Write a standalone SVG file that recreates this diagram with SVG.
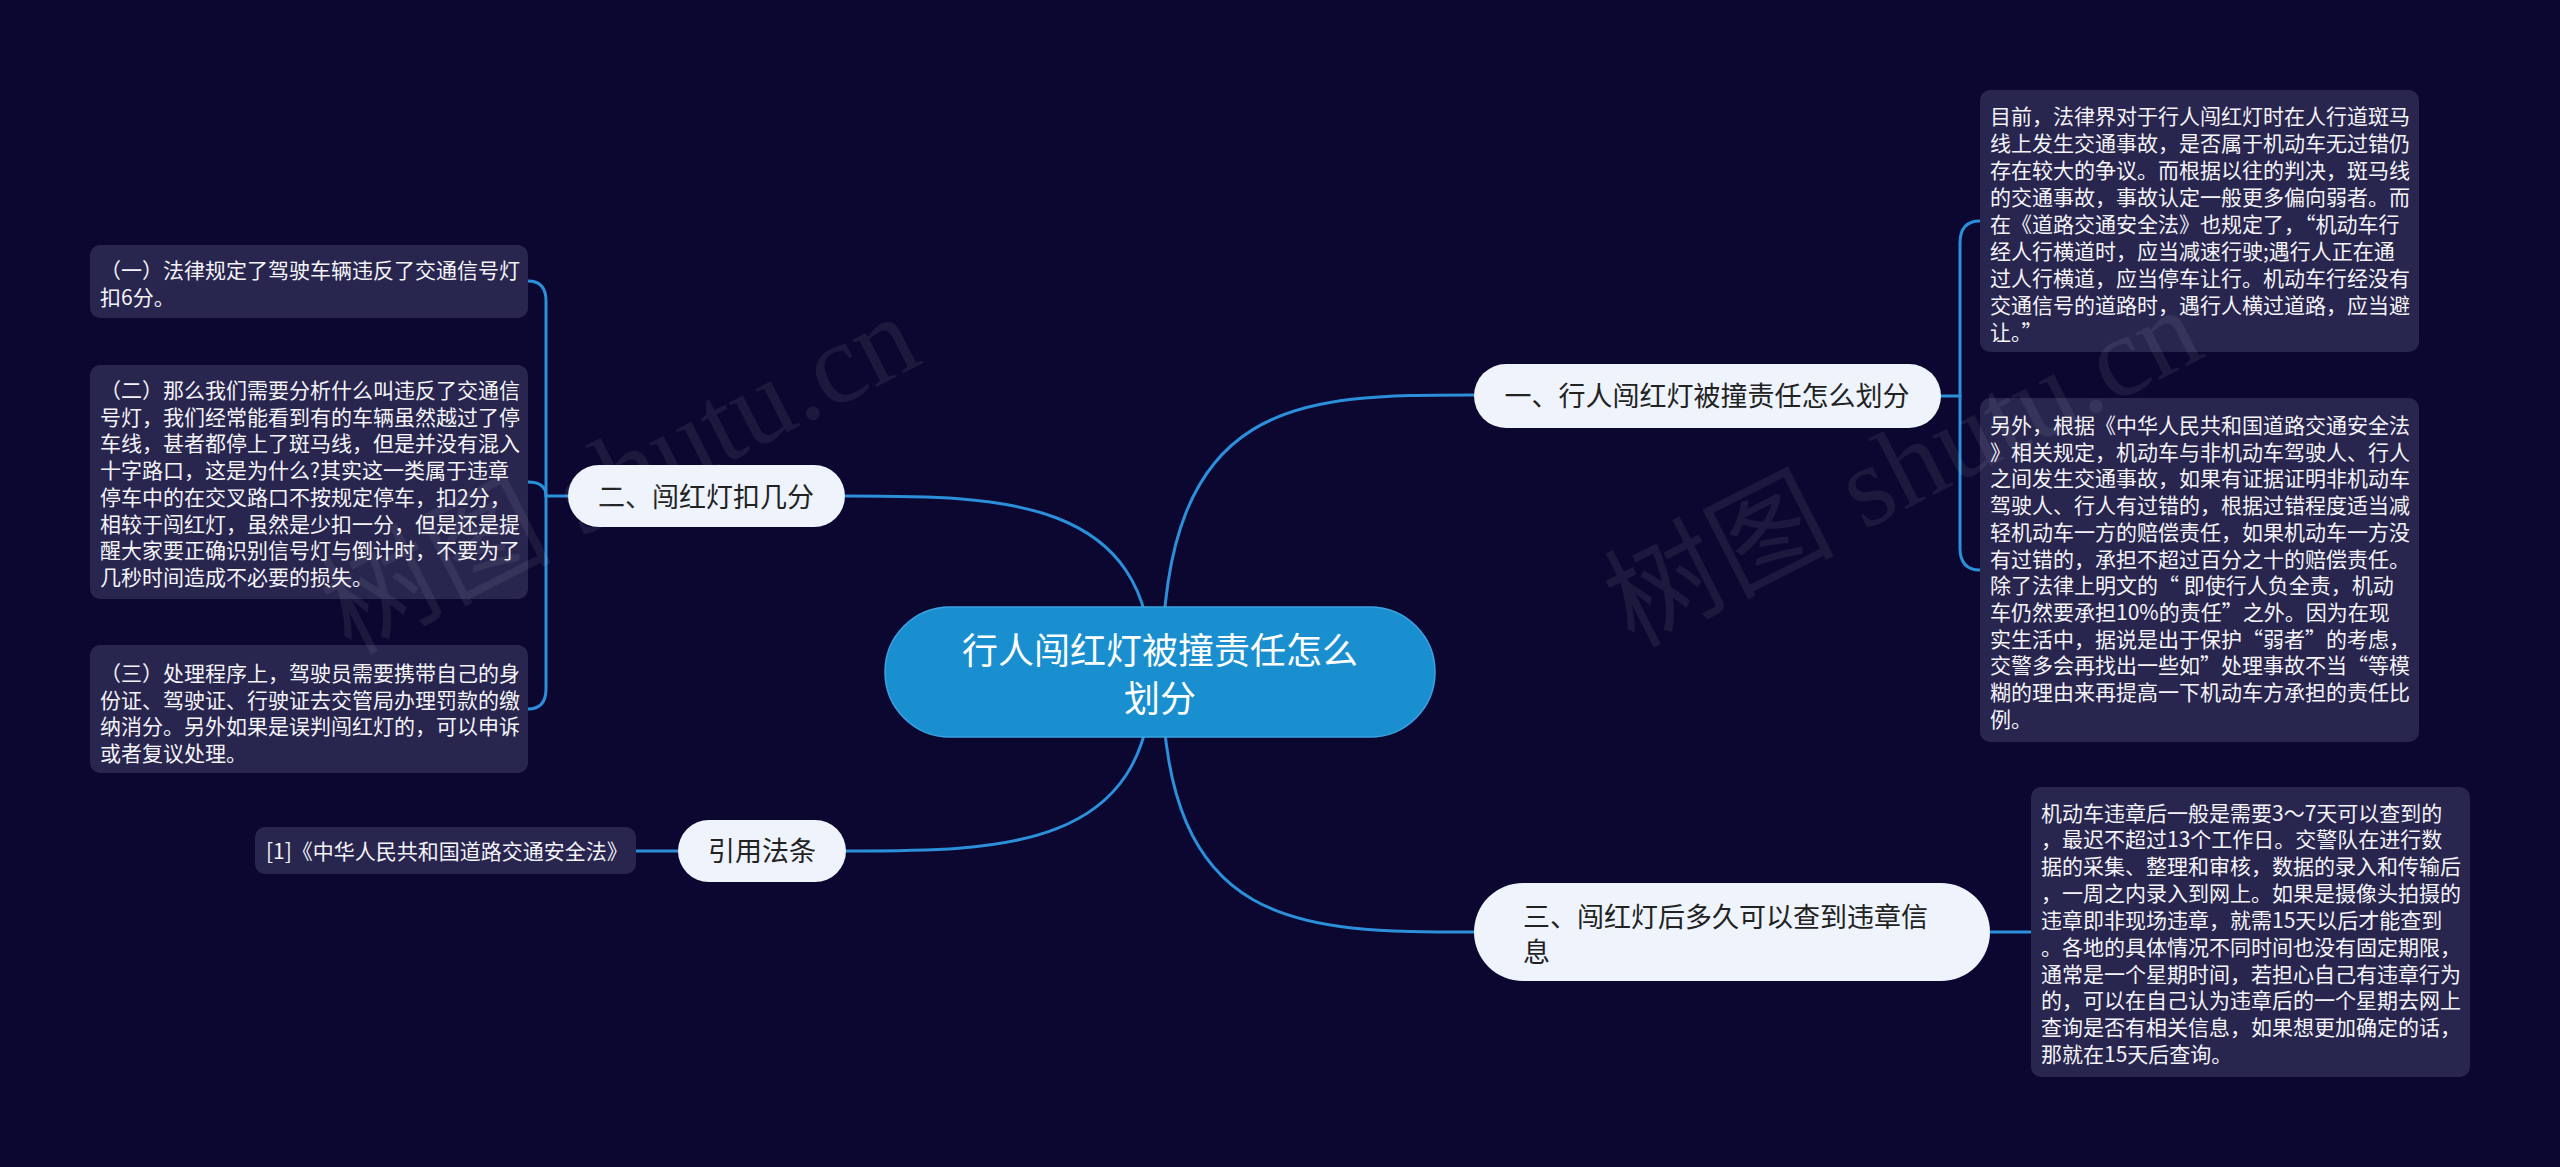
<svg xmlns="http://www.w3.org/2000/svg" width="2560" height="1167" viewBox="0 0 2560 1167">
<style>
.bg{fill:#0b0730}
.link{fill:none;stroke:#2b8fda;stroke-width:3;stroke-linecap:round}
.root{fill:#1a8fd0;stroke:#3ba3e2;stroke-width:1.5}
.rootT{font-family:"Noto Sans CJK SC","Noto Sans",sans-serif;font-size:36px;fill:#ffffff;text-anchor:middle}
.topic{fill:#eef3fc}
.topicT{font-family:"Noto Sans CJK SC","Noto Sans",sans-serif;font-size:27px;fill:#222222}
.box{fill:#28254f}
.boxT{font-family:"Noto Sans CJK SC","Noto Sans",sans-serif;font-size:21px;fill:#f4f4f8}
.wm{font-family:"Liberation Serif","Noto Sans CJK SC",serif;font-size:115px;fill:#ffffff;fill-opacity:0.07}
</style>
<rect class="bg" x="0" y="0" width="2560" height="1167"/>

<g id="connectors">
  <path class="link" d="M1162,672 C1162,395 1300,395 1474,395"/>
  <path class="link" d="M1152,672 C1152,496 1000,496 846,496"/>
  <path class="link" d="M1162,672 C1162,932 1300,932 1474,932"/>
  <path class="link" d="M1152,672 C1152,851 1000,851 846,851"/>
  <path class="link" d="M1941,396 H1960"/>
  <path class="link" d="M1960,396 V243 Q1960,221 1980,221"/>
  <path class="link" d="M1960,396 V548 Q1960,570 1980,570"/>
  <path class="link" d="M568,496 H546"/>
  <path class="link" d="M546,496 V301 Q546,281 528,281"/>
  <path class="link" d="M546,496 Q546,482 528,482"/>
  <path class="link" d="M546,496 V689 Q546,709 528,709"/>
  <path class="link" d="M1990,932 H2031"/>
  <path class="link" d="M678,851 H636"/>
</g>

<g id="root">
  <rect class="root" x="885" y="607" width="550" height="130" rx="65"/>
  <text class="rootT" x="1160" y="664">行人闯红灯被撞责任怎么</text>
  <text class="rootT" x="1160" y="712">划分</text>
</g>

<g id="topic1">
  <rect class="topic" x="1474" y="364" width="467" height="64" rx="32"/>
  <text class="topicT" x="1707" y="406" text-anchor="middle">一、行人闯红灯被撞责任怎么划分</text>
</g>

<g id="topic2">
  <rect class="topic" x="568" y="465" width="277" height="62" rx="31"/>
  <text class="topicT" x="706" y="507" text-anchor="middle">二、闯红灯扣几分</text>
</g>

<g id="topic3">
  <rect class="topic" x="1474" y="883" width="516" height="98" rx="49"/>
  <text class="topicT" x="1523" y="927">三、闯红灯后多久可以查到违章信</text>
  <text class="topicT" x="1523" y="962">息</text>
</g>

<g id="topic4">
  <rect class="topic" x="678" y="820" width="168" height="62" rx="31"/>
  <text class="topicT" x="762" y="861" text-anchor="middle">引用法条</text>
</g>

<g id="noteA">
  <rect class="box" x="1980" y="90" width="439" height="262" rx="10"/>
  <text class="boxT" x="1990" y="123.5">
    <tspan x="1990" dy="0">目前，法律界对于行人闯红灯时在人行道斑马</tspan>
    <tspan x="1990" dy="27.1">线上发生交通事故，是否属于机动车无过错仍</tspan>
    <tspan x="1990" dy="27.1">存在较大的争议。而根据以往的判决，斑马线</tspan>
    <tspan x="1990" dy="27.1">的交通事故，事故认定一般更多偏向弱者。而</tspan>
    <tspan x="1990" dy="27.1">在《道路交通安全法》也规定了，“机动车行</tspan>
    <tspan x="1990" dy="27.1">经人行横道时，应当减速行驶;遇行人正在通</tspan>
    <tspan x="1990" dy="27.1">过人行横道，应当停车让行。机动车行经没有</tspan>
    <tspan x="1990" dy="27.1">交通信号的道路时，遇行人横过道路，应当避</tspan>
    <tspan x="1990" dy="27.1">让。”</tspan>
  </text>
</g>

<g id="noteB">
  <rect class="box" x="1980" y="398" width="439" height="344" rx="10"/>
  <text class="boxT" x="1990" y="433">
    <tspan x="1990" dy="0">另外，根据《中华人民共和国道路交通安全法</tspan>
    <tspan x="1990" dy="26.7">》相关规定，机动车与非机动车驾驶人、行人</tspan>
    <tspan x="1990" dy="26.7">之间发生交通事故，如果有证据证明非机动车</tspan>
    <tspan x="1990" dy="26.7">驾驶人、行人有过错的，根据过错程度适当减</tspan>
    <tspan x="1990" dy="26.7">轻机动车一方的赔偿责任，如果机动车一方没</tspan>
    <tspan x="1990" dy="26.7">有过错的，承担不超过百分之十的赔偿责任。</tspan>
    <tspan x="1990" dy="26.7">除了法律上明文的“ 即使行人负全责，机动</tspan>
    <tspan x="1990" dy="26.7">车仍然要承担10%的责任”之外。因为在现</tspan>
    <tspan x="1990" dy="26.7">实生活中，据说是出于保护“弱者”的考虑，</tspan>
    <tspan x="1990" dy="26.7">交警多会再找出一些如”处理事故不当“等模</tspan>
    <tspan x="1990" dy="26.7">糊的理由来再提高一下机动车方承担的责任比</tspan>
    <tspan x="1990" dy="26.7">例。</tspan>
  </text>
</g>

<g id="noteC">
  <rect class="box" x="2031" y="787" width="439" height="290" rx="10"/>
  <text class="boxT" x="2041" y="820.5">
    <tspan x="2041" dy="0">机动车违章后一般是需要3～7天可以查到的</tspan>
    <tspan x="2041" dy="26.85">，最迟不超过13个工作日。交警队在进行数</tspan>
    <tspan x="2041" dy="26.85">据的采集、整理和审核，数据的录入和传输后</tspan>
    <tspan x="2041" dy="26.85">，一周之内录入到网上。如果是摄像头拍摄的</tspan>
    <tspan x="2041" dy="26.85">违章即非现场违章，就需15天以后才能查到</tspan>
    <tspan x="2041" dy="26.85">。各地的具体情况不同时间也没有固定期限，</tspan>
    <tspan x="2041" dy="26.85">通常是一个星期时间，若担心自己有违章行为</tspan>
    <tspan x="2041" dy="26.85">的，可以在自己认为违章后的一个星期去网上</tspan>
    <tspan x="2041" dy="26.85">查询是否有相关信息，如果想更加确定的话，</tspan>
    <tspan x="2041" dy="26.85">那就在15天后查询。</tspan>
  </text>
</g>

<g id="noteD1">
  <rect class="box" x="90" y="245" width="438" height="73" rx="10"/>
  <text class="boxT" x="100" y="278">
    <tspan x="100" dy="0">（一）法律规定了驾驶车辆违反了交通信号灯</tspan>
    <tspan x="100" dy="26.8">扣6分。</tspan>
  </text>
</g>

<g id="noteD2">
  <rect class="box" x="90" y="365" width="438" height="234" rx="10"/>
  <text class="boxT" x="100" y="398">
    <tspan x="100" dy="0">（二）那么我们需要分析什么叫违反了交通信</tspan>
    <tspan x="100" dy="26.7">号灯，我们经常能看到有的车辆虽然越过了停</tspan>
    <tspan x="100" dy="26.7">车线，甚者都停上了斑马线，但是并没有混入</tspan>
    <tspan x="100" dy="26.7">十字路口，这是为什么?其实这一类属于违章</tspan>
    <tspan x="100" dy="26.7">停车中的在交叉路口不按规定停车，扣2分，</tspan>
    <tspan x="100" dy="26.7">相较于闯红灯，虽然是少扣一分，但是还是提</tspan>
    <tspan x="100" dy="26.7">醒大家要正确识别信号灯与倒计时，不要为了</tspan>
    <tspan x="100" dy="26.7">几秒时间造成不必要的损失。</tspan>
  </text>
</g>

<g id="noteD3">
  <rect class="box" x="90" y="645" width="438" height="128" rx="10"/>
  <text class="boxT" x="100" y="681">
    <tspan x="100" dy="0">（三）处理程序上，驾驶员需要携带自己的身</tspan>
    <tspan x="100" dy="26.5">份证、驾驶证、行驶证去交管局办理罚款的缴</tspan>
    <tspan x="100" dy="26.5">纳消分。另外如果是误判闯红灯的，可以申诉</tspan>
    <tspan x="100" dy="26.5">或者复议处理。</tspan>
  </text>
</g>

<g id="noteE">
  <rect class="box" x="255" y="827" width="381" height="47" rx="10"/>
  <text class="boxT" x="266" y="858.5">[1]《中华人民共和国道路交通安全法》</text>
</g>

<g id="watermarks">
  <text class="wm" x="350" y="655" transform="rotate(-27 350 655)">树图 shutu.cn</text>
  <text class="wm" x="1633" y="648" transform="rotate(-27 1633 648)">树图 shutu.cn</text>
</g>
</svg>
